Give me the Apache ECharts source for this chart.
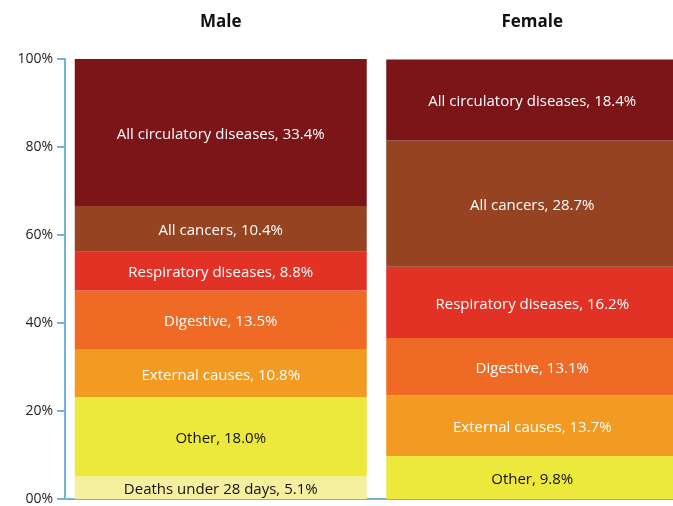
<!DOCTYPE html>
<html>
<head>
<meta charset="utf-8">
<script src="https://cdn.jsdelivr.net/npm/echarts@6/dist/echarts.min.js"></script>
<style>
  html, body { margin: 0; padding: 0; background: #fff; }
  #chart { width: 673px; height: 506px; }
</style>
</head>
<body>
<div id="chart"></div>
<script>
    var sexes = ['Male', 'Female'];
    // bottom to top
    var causes = ['Deaths under 28 days', 'Other', 'External causes', 'Digestive',
        'Respiratory diseases', 'All cancers', 'All circulatory diseases'];
    var maleShare = [5.1, 18.0, 10.8, 13.5, 8.8, 10.4, 33.4];
    var femaleShare = [0, 9.8, 13.7, 13.1, 16.2, 28.7, 18.4];
    var yTickLabels = ['00%', '20%', '40%', '60%', '80%', '100%'];

    var colors = ['#F4F09E', '#EDE83C', '#F29A22', '#EE6A25', '#E23226', '#964322', '#7B1518'];
    var labelColors = ['#111', '#111', '#fff', '#fff', '#fff', '#fff', '#fff'];
    var font = '"Open Sans", "Noto Sans", sans-serif';

    var series = [];
    for (var i = 0; i < causes.length; i++) {
        series.push({
            name: causes[i],
            type: 'bar',
            stack: 'all',
            barWidth: 292,
            data: [maleShare[i], femaleShare[i]],
            itemStyle: { color: colors[i] },
            label: {
                show: true,
                position: 'inside',
                offset: [0, 2],
                color: labelColors[i],
                fontFamily: font,
                fontSize: 15,
                formatter: function(p) {
                    if (!p.value) return '';
                    return p.seriesName + ', ' + p.value.toFixed(1) + '%';
                }
            }
        });
    }

    var chart = echarts.init(document.getElementById('chart'));
    chart.setOption({
        animation: false,
        grid: { left: 65, right: -15, top: 59, bottom: 7, outerBoundsMode: 'none', containLabel: false },
        xAxis: [{
            type: 'category',
            data: sexes,
            position: 'top',
            axisLine: { show: false },
            axisTick: { show: false },
            axisLabel: { margin: 28, fontFamily: font, fontWeight: 'bold', fontSize: 17, color: '#111' }
        }, {
            type: 'category',
            data: sexes,
            position: 'bottom',
            axisLine: { show: true, lineStyle: { color: '#74B3D6', width: 2 } },
            axisTick: { show: false },
            axisLabel: { show: false }
        }],
        yAxis: {
            type: 'value',
            min: 0,
            max: 100,
            interval: 20,
            axisLine: { show: true, lineStyle: { color: '#74B3D6', width: 2 } },
            axisTick: { show: true, length: 8, lineStyle: { color: '#74B3D6', width: 2 } },
            splitLine: { show: false },
            axisLabel: {
                margin: 12,
                fontFamily: font,
                fontSize: 14,
                color: '#222',
                formatter: function(v) { return yTickLabels[v / 20]; }
            }
        },
        series: series
    });
</script>
</body>
</html>
